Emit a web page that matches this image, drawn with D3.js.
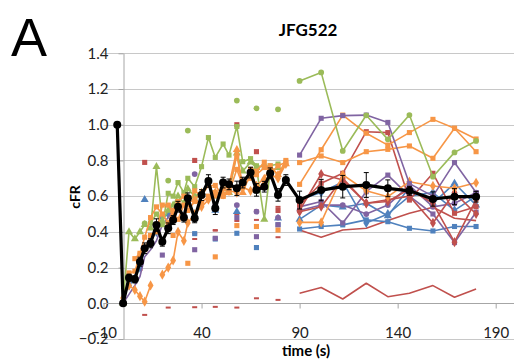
<!DOCTYPE html>
<html>
<head>
<meta charset="utf-8">
<script src="https://cdn.jsdelivr.net/npm/d3@7"></script>
<style>
  body { margin: 0; background: #fff; }
  svg { display: block; }
</style>
</head>
<body>
<svg id="chart" width="514" height="362"></svg>
<script>
const N = null;

// Sampling times (s): dense early phase, sparse late phase
const earlyTimes = [0, 3, 6, 8.6, 11, 14, 17, 20, 23, 25.5, 28, 31, 33, 36.5, 40, 43.5, 47, 51, 54, 58, 61, 65, 68, 72, 75, 79, 83];
const lateTimes = [90, 101, 112, 124, 135, 146, 158, 169, 180];

// Mean cFR (prebleach point at -3 s, then both phases) with error
const meanTimes = [-3, ...earlyTimes, ...lateTimes];
const meanValues = [1.0,
  0, 0.143, 0.134, 0.233, 0.308, 0.336, 0.438, 0.345, 0.42, 0.466, 0.541, 0.48, 0.588, 0.476,
  0.606, 0.685, 0.532, 0.676, 0.666, 0.644, 0.676, 0.732, 0.635, 0.653, 0.728, 0.607, 0.69,
  0.578, 0.634, 0.653, 0.662, 0.644, 0.63, 0.584, 0.597, 0.597];
const meanErrors = [0,
  0, 0.02, 0.02, 0.025, 0.03, 0.025, 0.035, 0.025, 0.03, 0.025, 0.03, 0.025, 0.03, 0.025,
  0.03, 0.035, 0.035, 0.03, 0.03, 0.04, 0.03, 0.03, 0.035, 0.03, 0.03, 0.035, 0.03,
  0.05, 0.06, 0.063, 0.07, 0.047, 0.025, 0.04, 0.045, 0.03];

// Individual cells, early phase
const greenSq = [N, N, N, N, N, 0.45, 0.50, 0.44, 0.616, 0.60, 0.676, 0.62, 0.70, 0.653, 0.765, 0.928, 0.817, 0.892, 0.83, 0.99, 0.793, 0.81, 0.77, 0.765, 0.77, 0.78, N];
const greenTri = [0.0, 0.40, 0.36, 0.40, 0.44, 0.42, 0.765, 0.46, 0.52, 0.55, 0.60, 0.56, 0.64, 0.60, 0.62, 0.66, 0.60, 0.64, 0.62, 0.84, 0.74, 0.79, 0.76, 0.47, 0.74, 0.76, N];
const greenDot = [N, N, N, N, 0.448, N, N, N, 0.687, N, N, N, 0.967, N, N, N, N, N, N, 1.135, N, N, 1.092, N, N, 1.086, N];
const orangeSq = [N, 0.17, 0.18, 0.27, 0.30, 0.38, 0.40, 0.55, 0.55, 0.50, 0.47, 0.55, 0.52, 0.57, 0.56, 0.60, 0.62, 0.60, 0.64, 0.83, 0.66, 0.70, 0.72, 0.76, 0.77, 0.72, 0.80];
const orangeLow = [0.03, 0.10, 0.075, 0.04, 0.009, 0.10, N, N, N, N, N, N, N, N, N, N, N, N, N, N, N, N, N, N, N, N, N];
const orangeDia = [N, N, N, N, N, N, N, 0.16, 0.20, 0.24, 0.40, 0.35, 0.45, 0.50, 0.54, 0.58, 0.62, 0.61, 0.63, 0.62, 0.65, 0.63, 0.64, 0.67, 0.72, 0.70, 0.78];
const orangeSq2 = [N, N, 0.25, 0.28, 0.37, 0.48, 0.54, 0.50, 0.45, 0.52, 0.57, 0.60, 0.55, 0.63, 0.60, 0.66, 0.66, 0.60, 0.62, 0.75, 0.66, 0.75, 0.74, 0.79, 0.72, 0.77, 0.79];
const orangeTri = [N, N, N, N, N, N, N, N, N, N, N, N, N, 0.58, 0.62, 0.66, 0.60, 0.64, 0.66, 0.86, 0.62, 0.73, 0.66, 0.70, 0.76, 0.72, 0.78];
const orangeIso = [N, N, N, N, N, N, N, N, N, 0.38, N, N, 0.224, N, N, N, 0.26, N, N, 0.435, N, N, 0.43, N, N, 0.41, N];
const purpleLine = [0.0, 0.05, 0.10, 0.15, 0.26, 0.30, 0.35, 0.44, 0.48, 0.53, 0.56, N, N, N, N, N, N, N, N, N, N, N, N, N, N, N, N];
const purpleSqIso = [N, N, N, N, N, N, N, 0.27, N, N, N, N, N, 0.30, N, N, 0.364, N, N, 0.48, N, N, 0.373, N, N, 0.44, N];
const purpleDotIso = [N, N, N, N, N, N, N, N, N, N, N, N, N, 0.724, N, N, 0.55, N, N, 0.55, N, N, 0.513, N, N, 0.48, N];
const blueTriIso = [N, N, N, N, 0.58, N, N, N, N, N, N, N, N, 0.58, N, N, 0.52, N, N, 0.513, N, N, 0.644, N, N, 0.476, N];
const blueSqIso = [N, N, N, N, N, N, N, N, N, N, N, N, N, 0.39, N, N, 0.36, N, N, 0.392, N, N, 0.312, N, N, 0.44, N];
const blueLine = [N, 0.10, 0.14, 0.20, 0.30, 0.35, 0.40, 0.48, 0.50, N, N, N, N, N, N, N, N, N, N, N, N, N, N, N, N, N, N];
const redSqIso = [N, N, N, N, 0.789, N, N, N, N, N, N, N, N, 0.80, N, N, N, N, N, 1.0, N, N, 0.849, N, N, 0.52, N];
const redDashLow = [N, N, N, N, -0.065, N, N, N, -0.024, N, N, N, N, -0.022, N, N, -0.02, N, N, -0.024, N, N, 0.028, N, N, 0.019, N];
const redDashMid = [N, N, N, 0.187, N, N, N, N, N, N, N, N, N, 0.36, N, N, 0.407, N, N, 0.461, N, N, 0.467, N, N, 0.37, N];
const redDashMid2 = [N, N, N, N, N, N, N, N, N, N, N, N, N, 0.39, N, N, 0.41, N, N, 0.50, N, N, 0.52, N, N, 0.54, N];

// Individual cells, late phase
const greenLate = [1.245, 1.293, 0.853, 1.053, 0.918, 1.054, 0.709, 0.845, 0.909];
const purpleLate1 = [0.83, 1.036, 1.051, 1.054, 1.013, 0.67, 0.60, 0.788, 0.62];
const orangeLate1 = [0.788, 0.825, 0.788, 0.849, 0.862, 0.881, 0.812, 0.98, 0.849];
const orangeLate2 = [0.666, 0.86, 1.054, 0.952, 0.886, 0.956, 1.030, 0.98, 0.92];
const orangeLate3 = [0.453, 0.453, 0.72, 0.63, 0.597, 0.681, 0.657, 0.644, 0.675];
const redLate1 = [0.55, 0.672, 0.728, 0.961, 0.956, 0.578, 0.728, 0.504, 0.541];
const redLate2 = [0.52, 0.724, 0.69, 0.56, 0.57, 0.64, 0.56, 0.342, 0.58];
const redLate3 = [0.056, 0.088, 0.024, 0.112, 0.037, 0.056, 0.099, 0.034, 0.080];
const redLate4 = [0.41, 0.37, 0.41, 0.42, 0.463, 0.504, 0.538, 0.476, 0.463];
const redLate5 = [0.513, 0.541, 0.70, 0.56, 0.58, 0.60, 0.45, 0.62, 0.50];
const blueLate1 = [0.416, 0.43, 0.439, 0.467, 0.457, 0.42, 0.405, 0.43, 0.43];
const blueLate2 = [0.47, 0.55, 0.538, 0.56, 0.489, 0.65, 0.56, 0.672, 0.55];
const blueLate3 = [0.58, 0.62, 0.68, 0.45, 0.50, 0.60, 0.62, 0.52, 0.60];
const purpleLate2 = [0.54, 0.57, 0.45, 0.625, 0.718, 0.60, 0.50, 0.34, 0.51];
const purpleLate3 = [0.52, 0.55, 0.55, 0.50, 0.55, 0.66, 0.54, 0.56, 0.62];

// Axis ticks
const xTickValues = [-10, 40, 90, 140, 190];
const yTickValues = [-0.2, 0, 0.2, 0.4, 0.6, 0.8, 1.0, 1.2, 1.4];

const BLUE = "#4F81BD", RED = "#C0504D", GREEN = "#9BBB59", PURPLE = "#8064A2", ORANGE = "#F79646";

const series = [
  { times: earlyTimes, values: redDashLow, color: RED, marker: "dash" },
  { times: earlyTimes, values: redDashMid, color: RED, marker: "dash" },
  { times: earlyTimes, values: redDashMid2, color: RED, marker: "dash" },
  { times: earlyTimes, values: blueLine, color: BLUE, marker: "diamond" },
  { times: earlyTimes, values: purpleLine, color: PURPLE, marker: "none" },
  { times: earlyTimes, values: blueSqIso, color: BLUE, marker: "square" },
  { times: earlyTimes, values: blueTriIso, color: BLUE, marker: "triangle" },
  { times: earlyTimes, values: purpleSqIso, color: PURPLE, marker: "square" },
  { times: earlyTimes, values: purpleDotIso, color: PURPLE, marker: "circle" },
  { times: earlyTimes, values: redSqIso, color: RED, marker: "square" },
  { times: earlyTimes, values: greenSq, color: GREEN, marker: "square" },
  { times: earlyTimes, values: greenTri, color: GREEN, marker: "triangle" },
  { times: earlyTimes, values: greenDot, color: GREEN, marker: "circle" },
  { times: earlyTimes, values: orangeLow, color: ORANGE, marker: "diamond" },
  { times: earlyTimes, values: orangeDia, color: ORANGE, marker: "diamond" },
  { times: earlyTimes, values: orangeSq2, color: ORANGE, marker: "square" },
  { times: earlyTimes, values: orangeTri, color: ORANGE, marker: "triangle" },
  { times: earlyTimes, values: orangeSq, color: ORANGE, marker: "square" },
  { times: earlyTimes, values: orangeIso, color: ORANGE, marker: "square" },
  { times: lateTimes, values: redLate3, color: RED, marker: "none" },
  { times: lateTimes, values: redLate4, color: RED, marker: "none" },
  { times: lateTimes, values: blueLate1, color: BLUE, marker: "square" },
  { times: lateTimes, values: blueLate2, color: BLUE, marker: "triangle" },
  { times: lateTimes, values: blueLate3, color: BLUE, marker: "diamond" },
  { times: lateTimes, values: purpleLate2, color: PURPLE, marker: "square" },
  { times: lateTimes, values: purpleLate3, color: PURPLE, marker: "circle" },
  { times: lateTimes, values: redLate5, color: RED, marker: "diamond" },
  { times: lateTimes, values: redLate2, color: RED, marker: "diamond" },
  { times: lateTimes, values: redLate1, color: RED, marker: "square" },
  { times: lateTimes, values: orangeLate3, color: ORANGE, marker: "diamond" },
  { times: lateTimes, values: orangeLate1, color: ORANGE, marker: "square" },
  { times: lateTimes, values: orangeLate2, color: ORANGE, marker: "square" },
  { times: lateTimes, values: purpleLate1, color: PURPLE, marker: "square" },
  { times: lateTimes, values: greenLate, color: GREEN, marker: "circle" }
];

const svg = d3.select("#chart");
const x = d3.scaleLinear().domain([-10, 200]).range([103.5, 515.3]);
const y = d3.scaleLinear().domain([-0.2, 1.4]).range([339, 53.3]);

// Horizontal gridlines
svg.append("g").selectAll("line").data(yTickValues).join("line")
  .attr("x1", x(-10)).attr("x2", 514)
  .attr("y1", d => Math.round(y(d)) + 0.5).attr("y2", d => Math.round(y(d)) + 0.5)
  .attr("stroke", "#c8c8c8").attr("stroke-width", 1);

// Vertical axis crossing at t = 0
const yAxis = d3.axisLeft(y).tickValues(yTickValues).tickFormat(d3.format(".1f"))
  .tickSizeInner(5).tickSizeOuter(0).tickPadding(10);
const gy = svg.append("g").attr("transform", `translate(${Math.round(x(0)) + 0.5},0)`).call(yAxis);
gy.select(".domain").attr("stroke", "#a6a6a6");
gy.selectAll(".tick line").attr("stroke", "#a6a6a6");
gy.selectAll(".tick text").attr("font-family", "Lato, sans-serif").attr("font-size", 15).attr("fill", "#222");

// Horizontal axis at cFR = 0, labels at the bottom of the plot
const xAxis = d3.axisBottom(x).tickValues(xTickValues).tickFormat(d3.format("d"))
  .tickSizeInner(5).tickSizeOuter(0);
const gx = svg.append("g").attr("transform", `translate(0,${Math.round(y(0)) + 0.5})`).call(xAxis);
gx.select(".domain").attr("stroke", "#a6a6a6").attr("d", `M${x(-10)},0H514`);
gx.selectAll(".tick line").attr("stroke", "#a6a6a6");
gx.selectAll(".tick text").attr("font-family", "Lato, sans-serif").attr("font-size", 15)
  .attr("fill", "#222").attr("y", 34).attr("dy", 0);

// Individual traces
const line = d3.line().defined(d => d.v != null).x(d => x(d.t)).y(d => y(d.v));
const symbols = {
  square: d3.symbol().type(d3.symbolSquare).size(26),
  circle: d3.symbol().type(d3.symbolCircle).size(26),
  triangle: d3.symbol().type(d3.symbolTriangle).size(28),
  diamond: d3.symbol().type(d3.symbolDiamond).size(30)
};
const traces = svg.append("g");
series.forEach(s => {
  const pts = s.times.map((t, i) => ({ t, v: s.values[i] }));
  const g = traces.append("g");
  g.append("path").attr("d", line(pts)).attr("fill", "none")
    .attr("stroke", s.color).attr("stroke-width", 1.6).attr("stroke-linejoin", "round");
  const valid = pts.filter(d => d.v != null);
  if (s.marker === "dash") {
    g.selectAll("rect").data(valid).join("rect")
      .attr("x", d => x(d.t) - 2.5).attr("y", d => y(d.v) - 1)
      .attr("width", 5).attr("height", 2).attr("fill", s.color);
  } else if (s.marker !== "none") {
    g.selectAll("path.m").data(valid).join("path").attr("class", "m")
      .attr("transform", d => `translate(${x(d.t)},${y(d.v)})`)
      .attr("d", symbols[s.marker]()).attr("fill", s.color);
  }
});

// Mean trace with error bars
const mean = meanTimes.map((t, i) => ({ t, v: meanValues[i], e: meanErrors[i] }));
const gm = svg.append("g");
const eb = gm.selectAll("g.err").data(mean.filter(d => d.e > 0)).join("g").attr("class", "err");
eb.append("line").attr("x1", d => x(d.t)).attr("x2", d => x(d.t))
  .attr("y1", d => y(d.v - d.e)).attr("y2", d => y(d.v + d.e))
  .attr("stroke", "#000").attr("stroke-width", 1);
[1, -1].forEach(sgn => {
  eb.append("line").attr("x1", d => x(d.t) - 2.5).attr("x2", d => x(d.t) + 2.5)
    .attr("y1", d => y(d.v + sgn * d.e)).attr("y2", d => y(d.v + sgn * d.e))
    .attr("stroke", "#000").attr("stroke-width", 1);
});
gm.append("path").attr("d", line(mean)).attr("fill", "none")
  .attr("stroke", "#000").attr("stroke-width", 3.2).attr("stroke-linejoin", "round");
gm.selectAll("circle").data(mean).join("circle")
  .attr("cx", d => x(d.t)).attr("cy", d => y(d.v)).attr("r", 4).attr("fill", "#000");

// Labels
svg.append("text").attr("x", 11).attr("y", 56).text("A")
  .attr("font-family", "'Liberation Sans', Arial, sans-serif").attr("font-size", 54).attr("fill", "#000");
svg.append("text").attr("x", 308).attr("y", 36).attr("text-anchor", "middle").text("JFG522")
  .attr("font-family", "Lato, sans-serif").attr("font-weight", "bold").attr("font-size", 17).attr("fill", "#000");
svg.append("text").attr("transform", "translate(80,197) rotate(-90)").attr("text-anchor", "middle").text("cFR")
  .attr("font-family", "Lato, sans-serif").attr("font-weight", "bold").attr("font-size", 14).attr("fill", "#000");
svg.append("text").attr("x", 306).attr("y", 356).attr("text-anchor", "middle").text("time (s)")
  .attr("font-family", "Lato, sans-serif").attr("font-weight", "bold").attr("font-size", 15).attr("fill", "#000");
</script>
</body>
</html>
